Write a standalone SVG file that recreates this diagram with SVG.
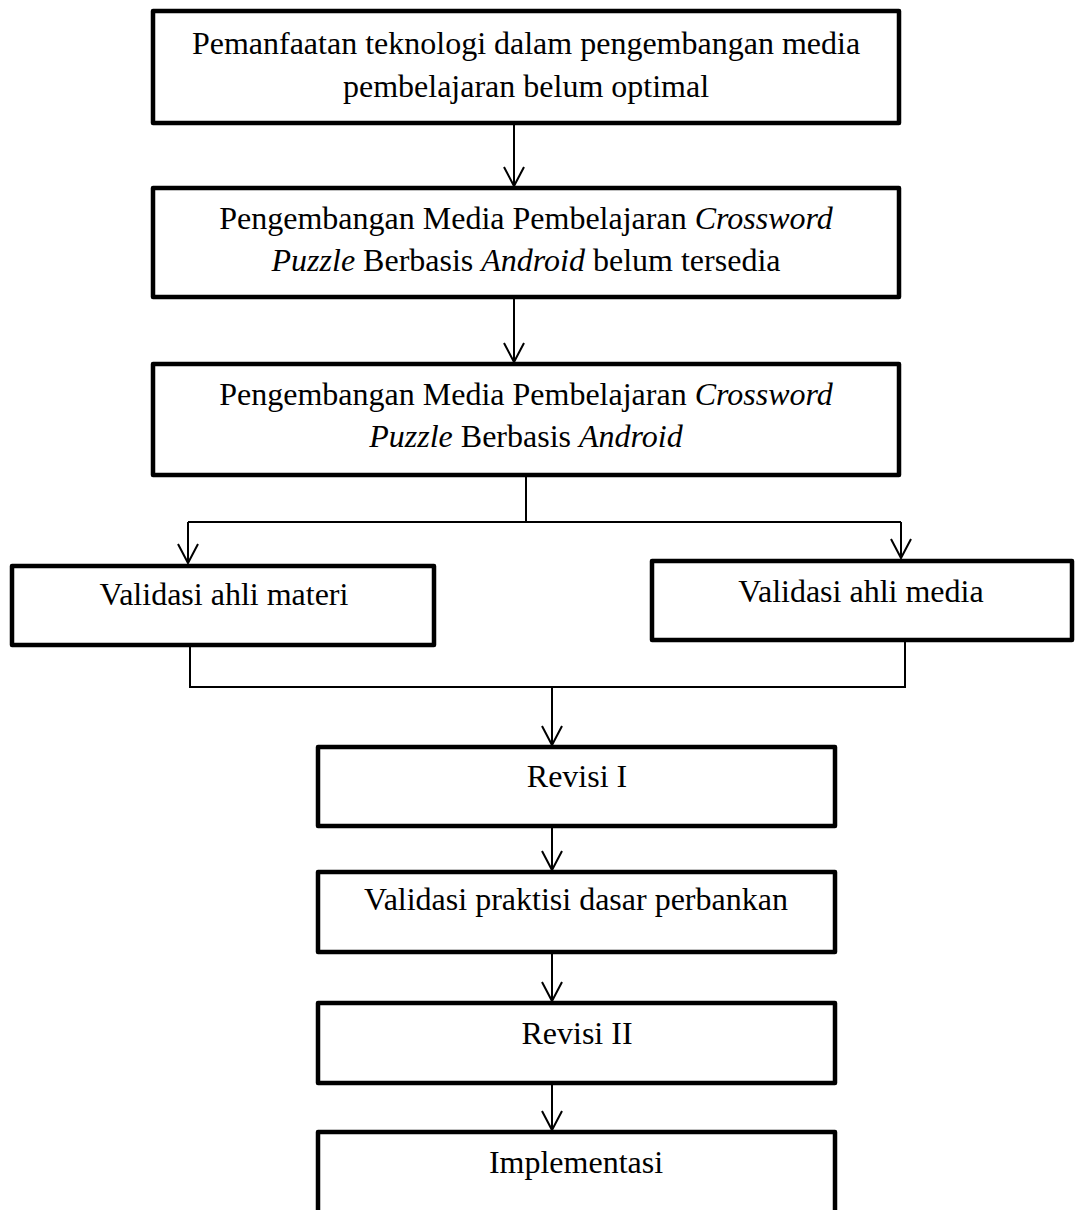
<svg xmlns="http://www.w3.org/2000/svg" width="1075" height="1210" viewBox="0 0 1075 1210">
<defs>
<style>
.box{fill:#fff;stroke:#000;stroke-width:4.5;stroke-linejoin:round}
.t{font-family:"Liberation Serif","Times New Roman",serif;font-size:32px;fill:#000;text-anchor:middle}
.i{font-style:italic}
.ln{fill:none;stroke:#000;stroke-width:2}
</style>
</defs>
<rect width="1075" height="1210" fill="#fff"/>
<g id="connectors">
<line class="ln" x1="514" y1="123" x2="514" y2="186"/>
<line class="ln" x1="514" y1="297" x2="514" y2="362"/>
<path class="ln" d="M526,475 V522 M188,522 H901"/>
<line class="ln" x1="188" y1="522" x2="188" y2="563"/>
<line class="ln" x1="901" y1="522" x2="901" y2="558"/>
<path class="ln" d="M190,645 V687 H905 V640"/>
<line class="ln" x1="552" y1="687" x2="552" y2="745"/>
<line class="ln" x1="552" y1="826" x2="552" y2="870"/>
<line class="ln" x1="552" y1="952" x2="552" y2="1001"/>
<line class="ln" x1="552" y1="1083" x2="552" y2="1130"/>
<path class="ln" d="M504,167 L514,186 L524,167 M504,343 L514,362 L524,343 M178,544 L188,563 L198,544 M891,539 L901,558 L911,539 M542,726 L552,745 L562,726 M542,851 L552,870 L562,851 M542,982 L552,1001 L562,982 M542,1111 L552,1130 L562,1111"/>
</g>
<g id="n1">
<rect class="box" x="153" y="11" width="746" height="112"/>
<text class="t" x="526" y="54">Pemanfaatan teknologi dalam pengembangan media</text>
<text class="t" x="526" y="97">pembelajaran belum optimal</text>
</g>
<g id="n2">
<rect class="box" x="153" y="188" width="746" height="109"/>
<text class="t" x="526" y="229">Pengembangan Media Pembelajaran <tspan class="i">Crossword</tspan></text>
<text class="t" x="526" y="271"><tspan class="i">Puzzle</tspan> Berbasis <tspan class="i">Android</tspan> belum tersedia</text>
</g>
<g id="n3">
<rect class="box" x="153" y="364" width="746" height="111"/>
<text class="t" x="526" y="405">Pengembangan Media Pembelajaran <tspan class="i">Crossword</tspan></text>
<text class="t" x="526" y="447"><tspan class="i">Puzzle</tspan> Berbasis <tspan class="i">Android</tspan></text>
</g>
<g id="n4">
<rect class="box" x="12" y="566" width="422" height="79"/>
<text class="t" x="224" y="605">Validasi ahli materi</text>
</g>
<g id="n5">
<rect class="box" x="652" y="561" width="420" height="79"/>
<text class="t" x="861" y="602">Validasi ahli media</text>
</g>
<g id="n6">
<rect class="box" x="318" y="747" width="517" height="79"/>
<text class="t" x="577" y="787">Revisi I</text>
</g>
<g id="n7">
<rect class="box" x="318" y="872" width="517" height="80"/>
<text class="t" x="576" y="910">Validasi praktisi dasar perbankan</text>
</g>
<g id="n8">
<rect class="box" x="318" y="1003" width="517" height="80"/>
<text class="t" x="577" y="1044">Revisi II</text>
</g>
<g id="n9">
<rect class="box" x="318" y="1132" width="517" height="100"/>
<text class="t" x="576" y="1173">Implementasi</text>
</g>
</svg>
